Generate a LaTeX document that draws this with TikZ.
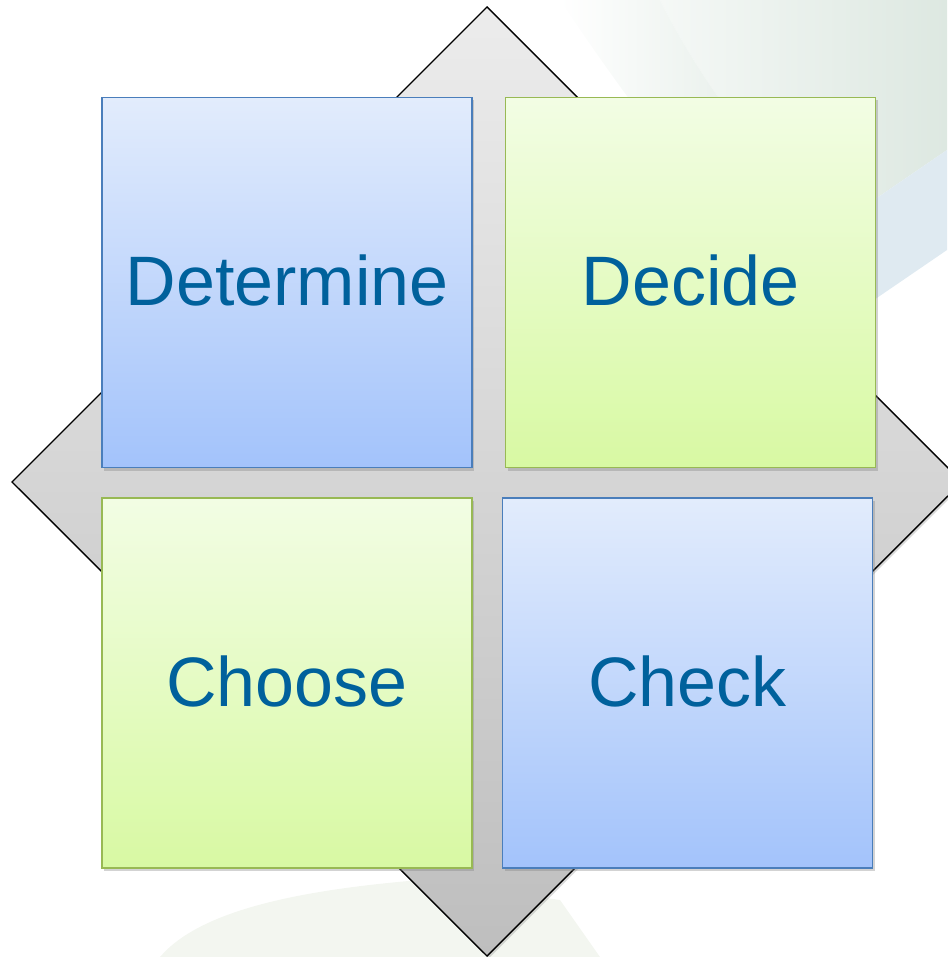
\documentclass[tikz,border=0pt]{standalone}
\usepackage{fontspec}
\setmainfont{Liberation Sans}
\usetikzlibrary{positioning,shadows}

\definecolor{txtblue}{HTML}{00619C}
\definecolor{blueline}{HTML}{4A7EBB}
\definecolor{greenline}{HTML}{98B954}
\definecolor{sweepgreen}{HTML}{DDE8E1}
\definecolor{sweepblue}{HTML}{DFEAF1}
\definecolor{sweeplow}{HTML}{F3F6F0}

\tikzset{
  box/.style = {minimum width = 370pt, minimum height = 370pt, inner sep = 0pt,
                line width = 1.6pt, text = txtblue, font = \fontsize{70}{80}\selectfont,
                drop shadow = {opacity = 0.35, shadow xshift = 2pt, shadow yshift = -3pt}},
  bluebox/.style = {box, draw = blueline, top color = {rgb,255:red,226;green,236;blue,252}, bottom color = {rgb,255:red,163;green,195;blue,251}},
  greenbox/.style = {box, draw = greenline, top color = {rgb,255:red,242;green,253;blue,228}, bottom color = {rgb,255:red,216;green,249;blue,163}}
}

\begin{document}
\begin{tikzpicture}[x = 1pt, y = -1pt]
		\useasboundingbox (0,0) rectangle (947,957);
		% faint background sweep
		\shade [left color = white, right color = sweepgreen]
			(540,0) -- (947,0) -- (947,150) -- (830,230) .. controls (760,160) and (700,80) .. (660,0) -- cycle;
		\shade [left color = white, right color = sweepgreen]
			(560,0) -- (660,0) .. controls (700,80) and (760,160) .. (830,230) -- (830,330) .. controls (740,250) and (640,120) .. (560,0) -- cycle;
		\fill [sweepblue] (830,230) -- (947,150) -- (947,250) -- (830,330) -- cycle;
		\fill [sweeplow]
			(160,957) .. controls (200,910) and (300,890) .. (420,880) -- (560,900) -- (600,957) -- cycle;
		% diamond
		\coordinate (top) at (487,7);
		\coordinate (left) at (12,482);
		\coordinate (right) at (962,482);
		\coordinate (bottom) at (487,956);
		\draw [line width = 1.4pt, top color = {rgb,255:red,236;green,236;blue,236}, bottom color = {rgb,255:red,190;green,190;blue,190},
			drop shadow = {opacity = 0.3, shadow xshift = 2pt, shadow yshift = -2pt}]
			(top) -- (right) -- (bottom) -- (left) -- cycle;
		% boxes
		\node (determine) [bluebox] at (287,282.5) {\raisebox{4pt}{Determine}};
		\node (decide) [greenbox, right = 32pt of determine] {\raisebox{4pt}{Decide}};
		\node (choose) [greenbox, below = 29pt of determine] {\raisebox{4pt}{Choose}};
		\node (check) [bluebox, right = 29pt of choose] {\raisebox{4pt}{Check}};
\end{tikzpicture}
\end{document}
